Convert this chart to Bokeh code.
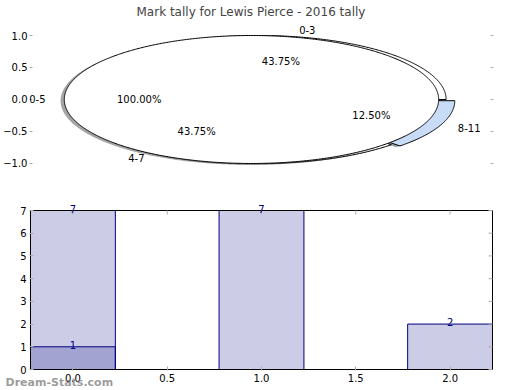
import numpy as np
from bokeh.plotting import figure
from bokeh.models import (Range1d, FixedTicker, ColumnDataSource, LabelSet, Title)
from bokeh.layouts import column
from bokeh.core.properties import field, value
from bokeh.embed import file_html
from bokeh.resources import INLINE

# ---------------- data ----------------
chart_title = "Mark tally for Lewis Pierce - 2016 tally"
watermark = "Dream-Stats.com"
pie_a_labels = ["0-3", "4-7", "8-11"]
pie_a_values = [7, 7, 2]
pie_b_labels = ["0-5"]
pie_b_values = [1]

bar_x = [0, 1, 2]
bar_a_values = [7, 7, 2]
bar_b_x = [0]
bar_b_values = [1]

top_y_ticks = [-1.0, -0.5, 0.0, 0.5, 1.0]
top_y_tick_labels = ["\u22121.0", "\u22120.5", "0.0", "0.5", "1.0"]
bottom_x_ticks = [0.0, 0.5, 1.0, 1.5, 2.0]
bottom_x_tick_labels = ["0.0", "0.5", "1.0", "1.5", "2.0"]
bottom_y_ticks = [0, 1, 2, 3, 4, 5, 6, 7]

# ---------------- styles ----------------
FONT = "DejaVu Sans"
TICK_COLOR = "#aaaaaa"
pie_a_colors = ["#ffffff", "#ffffff", "#c8dcf8"]
pie_a_explode = [0.0, 0.0, 0.05]
pie_a_center = (0.04, 0.0)
pie_b_colors = ["#ffffff"]
pie_b_explode = [0.0]
pie_b_center = (0.0, 0.0)
shadow_off = (-0.02, -0.02)
bar_width = 0.45


def hex_to_rgb(h):
    h = h.lstrip("#")
    return tuple(int(h[i:i + 2], 16) for i in (0, 2, 4))


def pie_geometry(values, explode, center, labels):
    total = float(sum(values))
    polys, label_pts, pct_pts = [], [], []
    t1 = 0.0
    for v, e, lab in zip(values, explode, labels):
        frac = v / total
        t2 = t1 + 360.0 * frac
        mid = np.radians((t1 + t2) / 2.0)
        cx = center[0] + e * np.cos(mid)
        cy = center[1] + e * np.sin(mid)
        n = max(int(abs(t2 - t1) * 2) + 2, 4)
        th = np.radians(np.linspace(t1, t2, n))
        xs = cx + np.cos(th)
        ys = cy + np.sin(th)
        if abs(frac - 1.0) > 1e-9:
            xs = np.concatenate([[cx], xs, [cx]])
            ys = np.concatenate([[cy], ys, [cy]])
        polys.append((list(xs), list(ys)))
        lx = cx + 1.1 * np.cos(mid)
        ly = cy + 1.1 * np.sin(mid)
        label_pts.append((lx, ly, lab, "left" if lx - cx > 0 else "right"))
        pct_pts.append((cx + 0.6 * np.cos(mid), cy + 0.6 * np.sin(mid),
                        "%.2f%%" % (frac * 100.0)))
        t1 = t2
    return polys, label_pts, pct_pts


def style_axis(ax, tick_in):
    ax.axis_line_color = None
    ax.major_tick_in = tick_in
    ax.major_tick_out = 0
    ax.minor_tick_line_color = None
    ax.major_tick_line_color = TICK_COLOR
    ax.major_label_text_font = FONT
    ax.major_label_text_font_size = "10px"
    ax.major_label_text_color = "black"


# ---------------- top: pie ----------------
ppu_x1 = 188.0
top_x_start, top_x_end = -1.186, 1.293
p1 = figure(width=510, height=200,
            x_range=Range1d(top_x_start, top_x_end), y_range=Range1d(-1.266, 1.172),
            output_backend="svg", toolbar_location=None,
            min_border_left=27, min_border_right=17,
            min_border_top=24, min_border_bottom=20)
p1.title.text = chart_title
p1.title.align = "left"
p1.title.offset = 107
p1.title.vertical_align = "top"
p1.title.text_font = FONT
p1.title.text_font_size = "12px"
p1.title.text_font_style = "normal"
p1.title.standoff = 8
p1.xaxis.visible = False
p1.grid.visible = False
p1.outline_line_color = None

yax = p1.yaxis[0]
yax.ticker = FixedTicker(ticks=top_y_ticks)
yax.major_label_overrides = {t: l for t, l in zip(top_y_ticks, top_y_tick_labels)}
style_axis(yax, 3)
yax.major_label_standoff = 2
# right-hand tick marks (no labels)
p1.segment(x0=[top_x_end - 3 / ppu_x1] * len(top_y_ticks), y0=top_y_ticks,
           x1=[top_x_end] * len(top_y_ticks), y1=top_y_ticks,
           line_color=TICK_COLOR, line_width=1)

all_labels = []
all_pcts = []
for vals, expl, cen, labs, cols in [
        (pie_a_values, pie_a_explode, pie_a_center, pie_a_labels, pie_a_colors),
        (pie_b_values, pie_b_explode, pie_b_center, pie_b_labels, pie_b_colors)]:
    polys, lpts, ppts = pie_geometry(vals, expl, cen, labs)
    sx = [[x + shadow_off[0] for x in pl[0]] for pl in polys]
    sy = [[y + shadow_off[1] for y in pl[1]] for pl in polys]
    scol = ["#%02x%02x%02x" % tuple(int(0.3 * c) for c in hex_to_rgb(c)) for c in cols]
    p1.patches(sx, sy, fill_color=scol, fill_alpha=0.5, line_color=None)
    p1.patches([pl[0] for pl in polys], [pl[1] for pl in polys],
               fill_color=cols, line_color="black", line_width=1)
    all_labels += lpts
    all_pcts += ppts

lab_src = ColumnDataSource(dict(x=[l[0] for l in all_labels],
                                y=[l[1] for l in all_labels],
                                text=[l[2] for l in all_labels],
                                align=[l[3] for l in all_labels]))
p1.add_layout(LabelSet(x="x", y="y", text="text", source=lab_src,
                       text_align=field("align"), text_baseline="middle",
                       text_font=value(FONT), text_font_size="10px",
                       text_color="black"))
pct_src = ColumnDataSource(dict(x=[l[0] for l in all_pcts],
                                y=[l[1] for l in all_pcts],
                                text=[l[2] for l in all_pcts]))
p1.add_layout(LabelSet(x="x", y="y", text="text", source=pct_src,
                       text_align="center", text_baseline="middle",
                       text_font=value(FONT), text_font_size="10px",
                       text_color="black"))

# ---------------- bottom: bars ----------------
# axes box = extent of the bars (x) and 0..max value (y); the frame is a bit
# larger so that value labels above the top edge are not clipped.
box_left = min(bar_x) - bar_width / 2
box_right = max(bar_x) + bar_width / 2
box_top = max(bar_a_values)
H2 = 188
frame_top_px, frame_bottom_px = 0, 170           # inside the figure
y0_px, ytop_px = 169, 10                          # y=0 and y=box_top
ppu_y = (y0_px - ytop_px) / box_top
y_start = -(frame_bottom_px - y0_px) / ppu_y
y_end = box_top + (ytop_px - frame_top_px) / ppu_y
ppu_x = 191.5
x_start = box_left - 1 / ppu_x
x_end = box_right + 1 / ppu_x

p2 = figure(width=510, height=H2,
            x_range=Range1d(x_start, x_end), y_range=Range1d(y_start, y_end),
            output_backend="svg", toolbar_location=None,
            min_border_left=24, min_border_right=15,
            min_border_top=frame_top_px, min_border_bottom=H2 - frame_bottom_px)
p2.grid.visible = False
p2.outline_line_color = None

p2.vbar(x=bar_x, top=bar_a_values, width=bar_width, fill_color="navy",
        fill_alpha=0.2, line_color="navy", line_width=1)
p2.vbar(x=bar_b_x, top=bar_b_values, width=bar_width, fill_color="navy",
        fill_alpha=0.2, line_color="navy", line_width=1)

# axes box, top and right tick marks (inside)
p2.quad(left=[box_left], right=[box_right], bottom=[0], top=[box_top],
        fill_color=None, line_color="black", line_width=1)
p2.segment(x0=bottom_x_ticks, y0=[box_top] * len(bottom_x_ticks),
           x1=bottom_x_ticks, y1=[box_top - 4 / ppu_y] * len(bottom_x_ticks),
           line_color=TICK_COLOR, line_width=1)
p2.segment(x0=[box_right - 4 / ppu_x] * len(bottom_y_ticks), y0=bottom_y_ticks,
           x1=[box_right] * len(bottom_y_ticks), y1=bottom_y_ticks,
           line_color=TICK_COLOR, line_width=1)

bl_src = ColumnDataSource(dict(x=bar_x + bar_b_x, y=bar_a_values + bar_b_values,
                               text=[str(v) for v in bar_a_values + bar_b_values]))
p2.add_layout(LabelSet(x="x", y="y", text="text", source=bl_src,
                       text_align="center", text_baseline="middle", y_offset=2,
                       text_font=value(FONT), text_font_size="10px",
                       text_color="navy"))

bx = p2.xaxis[0]
bx.ticker = FixedTicker(ticks=bottom_x_ticks)
bx.major_label_overrides = {t: l for t, l in zip(bottom_x_ticks, bottom_x_tick_labels)}
by = p2.yaxis[0]
by.ticker = FixedTicker(ticks=bottom_y_ticks)
for ax in (bx, by):
    style_axis(ax, 4)
    ax.major_label_standoff = 3

p2.add_layout(Title(text=watermark, align="left", vertical_align="top",
                    offset=-24, standoff=-18, text_font=FONT,
                    text_font_size="11px", text_font_style="bold",
                    text_color="#7a7a7a", text_alpha=0.75), "below")

layout = column(p1, p2)
open("out.html", "w").write(file_html(layout, INLINE))
